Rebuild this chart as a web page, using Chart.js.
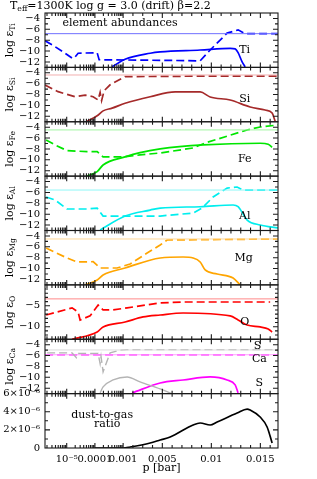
<!DOCTYPE html>
<html>
<head>
<meta charset="utf-8">
<script src="https://cdn.jsdelivr.net/npm/chart.js@4/dist/chart.umd.min.js"></script>
<style>
  html, body { margin: 0; padding: 0; background: #fff; }
</style>
</head>
<body>
<canvas id="mainCanvas" width="317" height="479"></canvas>
<script>
// x range of the plot in bar
const xMinP = 1.7e-6;
const xMaxP = 0.0168;

// labelled x ticks and their text
const xMajorP = [1e-5, 1e-4, 1e-3, 0.005, 0.01, 0.015];
const xMajorText = ["10⁻⁵", "0.0001", "0.001", "0.005", "0.01", "0.015"];

// initial (solar) abundances, thin lines
const tiThin = -6.8;
const siThin = -4.4;
const feThin = -4.5;
const alThin = -5.56;
const mgThin = -4.56;
const oThin = -3.35;
const caThin = -5.85;
const sThin = -4.97;

// [p, log eps] gas phase (dashed)
const tiGas = [[1.71e-6,-8.1],[3.88e-6,-9.2],[8.8e-6,-10.4],[1.55e-5,-11.3],[1.83e-5,-11.3],[2.54e-5,-10.4],[1.2e-4,-10.3],[1.41e-4,-11.6],[4.78e-3,-11.7],[8.86e-3,-11.8],[9.88e-3,-9.8],[1.161e-2,-6.7],[1.273e-2,-6.1],[1.345e-2,-6.8],[1.682e-2,-6.8]];
const siGas = [[1.71e-6,-6.24],[4.95e-6,-7.47],[1.99e-5,-8.39],[4.49e-5,-8.1],[8.63e-5,-8.39],[1.30e-4,-9.0],[1.53e-4,-7.6],[1.73e-4,-9.1],[2.12e-4,-7.3],[3.46e-4,-6.2],[1.2e-3,-4.7],[1.059e-2,-4.6],[1.682e-2,-4.6]];
const feGas = [[1.86e-6,-6.35],[3.88e-6,-7.27],[1.03e-5,-8.31],[5.29e-5,-8.5],[1.2e-4,-8.5],[1.95e-4,-9.47],[1e-3,-9.47],[2.73e-3,-9.1],[4.78e-3,-8.74],[8.14e-3,-7.82],[9.37e-3,-6.9],[1.365e-2,-4.51],[1.498e-2,-3.96],[1.682e-2,-3.59]];
const alGas = [[1.86e-6,-6.84],[3.88e-6,-7.4],[1.03e-5,-9.05],[5.29e-5,-9.05],[1.2e-4,-8.87],[1.95e-4,-10.34],[4.78e-3,-10.34],[8.14e-3,-9.79],[9.06e-3,-8.87],[1.018e-2,-6.84],[1.161e-2,-5.19],[1.263e-2,-5.0],[1.324e-2,-5.56],[1.682e-2,-5.56]];
const mgGas = [[1.86e-6,-6.22],[1.03e-5,-8.06],[2.34e-5,-8.79],[8.63e-5,-8.74],[1.53e-4,-9.9],[6.12e-4,-9.9],[1.71e-3,-9.16],[3.45e-3,-7.14],[4.78e-3,-5.67],[5.49e-3,-4.75],[1.682e-2,-4.56]];
const oGas = [[1.86e-6,-7.2],[1.55e-5,-5.5],[2.54e-5,-6.5],[2.99e-5,-8.4],[6.76e-5,-7.4],[1.3e-4,-4.8],[1.66e-4,-5.5],[1.95e-4,-6.0],[4.42e-4,-6.0],[1.41e-3,-5.5],[4.78e-3,-4.3],[7.12e-3,-4.1],[1.6e-2,-4.1]];
const caGas = [[1.71e-6,-5.85],[1.682e-2,-5.85]];
const sGas = [[2.02e-6,-5.5],[1.55e-5,-5.5],[2.2e-5,-6.4],[2.6e-5,-5.6],[1.3e-4,-5.6],[1.53e-4,-7.5],[1.65e-4,-6.2],[1.95e-4,-9.0],[3.46e-4,-5.5],[7.83e-4,-5.0],[1.41e-3,-4.9],[1.682e-2,-4.9]];

// [p, log eps] condensed phase (solid)
const tiDust = [[4.07e-4,-12.9],[1.2e-3,-11.5],[3.76e-3,-10.4],[4.78e-3,-10.15],[8.86e-3,-9.8],[1.192e-2,-9.5],[1.243e-2,-9.6],[1.273e-2,-10.3],[1.314e-2,-12.0],[1.345e-2,-12.9]];
const siDust = [[5.29e-5,-12.9],[1.2e-4,-11.9],[1.95e-4,-11.0],[4.07e-4,-10.5],[1.2e-3,-9.6],[3.76e-3,-8.4],[6.31e-3,-7.52],[8.86e-3,-7.52],[9.88e-3,-8.44],[1.192e-2,-9.0],[1.396e-2,-10.28],[1.549e-2,-10.84],[1.62e-2,-11.4],[1.651e-2,-12.9]];
const feDust = [[5.29e-5,-13],[1.2e-4,-12.18],[1.95e-4,-10.95],[1.2e-3,-9.47],[2.73e-3,-8.68],[4.78e-3,-8.0],[9.16e-3,-7.27],[1.498e-2,-6.95],[1.58e-2,-7.14],[1.62e-2,-7.69]];
const alDust = [[1.53e-4,-12.9],[1.2e-3,-10.34],[3.76e-3,-9.24],[4.78e-3,-8.87],[8.86e-3,-8.63],[1.222e-2,-8.31],[1.273e-2,-8.63],[1.365e-2,-11.07],[1.498e-2,-11.99],[1.682e-2,-12.54]];
const mgDust = [[4.49e-5,-13],[1.2e-4,-12.1],[1.95e-4,-11.18],[1.2e-3,-9.9],[4.78e-3,-8.06],[7.12e-3,-7.87],[8.14e-3,-8.06],[8.86e-3,-8.79],[9.37e-3,-10.26],[1.059e-2,-11.0],[1.222e-2,-11.74],[1.294e-2,-13]];
const oDust = [[1.55e-5,-13],[1.2e-4,-11.26],[1.95e-4,-10.06],[1.2e-3,-8.87],[3.04e-3,-7.67],[4.78e-3,-7.2],[7.12e-3,-6.72],[1.192e-2,-7.43],[1.273e-2,-8.39],[1.365e-2,-9.59],[1.498e-2,-10.06],[1.58e-2,-10.54],[1.62e-2,-11.26]];
const caDust = [[1.92e-3,-12.87],[4.78e-3,-11.04],[7.12e-3,-10.49],[9.88e-3,-9.93],[1.161e-2,-10.49],[1.243e-2,-11.4],[1.273e-2,-12.87]];
const sDust = [[1.53e-4,-12.87],[1.95e-4,-11.77],[4.42e-4,-10.49],[1.41e-3,-9.93],[2.73e-3,-10.85],[4.78e-3,-12.14],[6e-3,-13]];

// [p, dust-to-gas ratio]
const dustToGas = [[1e-4,0],[1e-3,0],[1.71e-3,0.11e-6],[3.76e-3,0.55e-6],[4.78e-3,0.88e-6],[5.8e-3,1.21e-6],[8.14e-3,2.54e-6],[8.86e-3,2.76e-6],[9.88e-3,2.54e-6],[1.059e-2,2.87e-6],[1.263e-2,3.86e-6],[1.365e-2,4.3e-6],[1.396e-2,4.19e-6],[1.498e-2,3.42e-6],[1.569e-2,2.32e-6],[1.62e-2,0.55e-6]];

/**
 * The p axis is logarithmic up to 0.001 bar and linear above it.
 * One decade is one unit; 0.001 bar of the linear part is LIN units.
 */
const LIN = 9.8 / 28.2;
function pToU(p) {
  return p <= 1e-3 ? Math.log10(p / 1e-3) : (p - 1e-3) / 1e-3 * LIN;
}

function xTickMarks() {
  const marks = [];
  for (let e = -6; e < -3; e++) {
    for (let m = 1; m < 10; m++) {
      const p = m * Math.pow(10, e);
      if (p >= xMinP) marks.push([p, m == 1]);
    }
  }
  for (let k = 1; k <= 16; k++) {
    marks.push([k * 1e-3, k == 1 || k % 5 == 0]);
  }
  return marks;
}

const font = "DejaVu Serif";
const tickFont = { family: font, size: 10 };

function minus(v) {
  return String(v).replace("-", "\u2212");
}

// axes are stacked from the bottom up
const panels = [
  { id: "yDust", min: 0, max: 6e-6, majors: [0, 2e-6, 4e-6, 6e-6], step: 1e-6, sub: null,
    label: v => v == 0 ? "0" : Math.round(v / 1e-6) + "×10⁻⁶" },
  { id: "yCa", min: -13, max: -3, majors: [-12, -10, -8, -6, -4], step: 1, sub: "Ca", label: minus },
  { id: "yO",  min: -13, max: 0,  majors: [-10, -5], step: 1, sub: "O", label: minus },
  { id: "yMg", min: -13, max: -3, majors: [-12, -10, -8, -6, -4], step: 1, sub: "Mg", label: minus },
  { id: "yAl", min: -13, max: -3, majors: [-12, -10, -8, -6, -4], step: 1, sub: "Al", label: minus },
  { id: "yFe", min: -13, max: -3, majors: [-12, -10, -8, -6, -4], step: 1, sub: "Fe", label: minus },
  { id: "ySi", min: -13, max: -3, majors: [-12, -10, -8, -6, -4], step: 1, sub: "Si", label: minus },
  { id: "yTi", min: -13, max: -3, majors: [-12, -10, -8, -6, -4], step: 1, sub: "Ti", label: minus },
];

// element names written inside the panels: [text, p, value, axis]
const notes = [
  ["Ti", 0.0134, -9.9, "yTi"],
  ["Si", 0.0134, -8.9, "ySi"],
  ["Fe", 0.0134, -9.9, "yFe"],
  ["Al", 0.0134, -10.4, "yAl"],
  ["Mg", 0.0133, -8.0, "yMg"],
  ["O", 0.0134, -8.8, "yO"],
  ["S", 0.0147, -4.2, "yCa"],
  ["Ca", 0.0149, -6.7, "yCa"],
  ["S", 0.0149, -11.1, "yCa"],
  ["element abundances", 7.8e-4, -4.85, "yTi"],
  ["dust-to-gas", 1.8e-4, 3.64e-6, "yDust"],
  ["ratio", 2.7e-4, 2.68e-6, "yDust"],
];

function line(points, axis, color, width, dash, smooth) {
  return {
    data: points.map(([p, v]) => ({ x: pToU(p), y: v })),
    yAxisID: axis,
    borderColor: color,
    borderWidth: width,
    borderDash: dash || [],
    pointRadius: 0,
    fill: false,
    cubicInterpolationMode: smooth ? "monotone" : "default",
    tension: 0,
  };
}

function thin(v, axis, color) {
  return line([[xMinP, v], [xMaxP, v]], axis, color, 1);
}

const DASH = [8, 4];
const datasets = [
  thin(tiThin, "yTi", "#7070ff"),
  line(tiGas, "yTi", "#0000ff", 1.7, DASH),
  line(tiDust, "yTi", "#0000ff", 1.7, null, true),
  thin(siThin, "ySi", "#f2b0b0"),
  line(siGas, "ySi", "#a52a2a", 1.7, DASH),
  line(siDust, "ySi", "#a52a2a", 1.7, null, true),
  thin(feThin, "yFe", "#a0f5a0"),
  line(feGas, "yFe", "#00e600", 1.7, DASH),
  line(feDust, "yFe", "#00e600", 1.7, null, true),
  thin(alThin, "yAl", "#90f7f7"),
  line(alGas, "yAl", "#00eeee", 1.7, DASH),
  line(alDust, "yAl", "#00eeee", 1.7, null, true),
  thin(mgThin, "yMg", "#ffd898"),
  line(mgGas, "yMg", "#ffa500", 1.7, DASH),
  line(mgDust, "yMg", "#ffa500", 1.7, null, true),
  thin(oThin, "yO", "#ff8888"),
  line(oGas, "yO", "#ff0000", 1.7, DASH),
  line(oDust, "yO", "#ff0000", 1.7, null, true),
  thin(sThin, "yCa", "#dcdcdc"),
  line(sGas, "yCa", "#b4b4b4", 1.4, DASH),
  line(sDust, "yCa", "#b4b4b4", 1.4, null, true),
  thin(caThin, "yCa", "#ffa0ff"),
  line(caGas, "yCa", "#ff00ff", 1.7, DASH),
  line(caDust, "yCa", "#ff00ff", 1.7, null, true),
  line(dustToGas, "yDust", "#000000", 1.7, null, true),
];

function yAxis(pn) {
  return {
    type: "linear",
    position: "left",
    stack: "panels",
    stackWeight: 1,
    min: pn.min,
    max: pn.max,
    afterBuildTicks: s => { s.ticks = pn.majors.map(v => ({ value: v })); },
    afterFit: s => { s.width = 45; },
    grid: { display: false, drawTicks: false },
    border: { display: false },
    ticks: { autoSkip: false, padding: 5, color: "#000", font: tickFont, callback: pn.label },
  };
}

/**
 * Draws a row of text pieces; pieces with sub set are smaller and lowered
 */
function drawPieces(ctx, pieces, x, y, size, align) {
  const widths = pieces.map(pc => {
    ctx.font = (pc.sub ? size * 0.7 : size) + "px '" + font + "'";
    return ctx.measureText(pc.t).width;
  });
  const total = widths.reduce((a, b) => a + b, 0);
  let cx = align == "center" ? x - total / 2 : x;
  pieces.forEach((pc, i) => {
    ctx.font = (pc.sub ? size * 0.7 : size) + "px '" + font + "'";
    ctx.fillText(pc.t, cx, y + (pc.sub ? size * 0.3 : 0));
    cx += widths[i];
  });
}

const decorPlugin = {
  id: "decor",
  afterDraw(chart) {
    const ctx = chart.ctx;
    const area = chart.chartArea;
    const xs = chart.scales.x;
    const marks = xTickMarks();

    ctx.save();
    ctx.strokeStyle = "#1a1a1a";
    ctx.lineWidth = 1.1;
    panels.forEach(pn => {
      const s = chart.scales[pn.id];
      ctx.strokeRect(area.left, s.top, area.right - area.left, s.bottom - s.top);
      ctx.beginPath();
      marks.forEach(([p, major]) => {
        const x = xs.getPixelForValue(pToU(p));
        const len = major ? 5 : 3;
        ctx.moveTo(x, s.top); ctx.lineTo(x, s.top + len);
        ctx.moveTo(x, s.bottom); ctx.lineTo(x, s.bottom - len);
      });
      for (let v = pn.min + pn.step; v < pn.max - pn.step / 2; v += pn.step) {
        const y = s.getPixelForValue(v);
        const major = pn.majors.some(m => Math.abs(m - v) < pn.step / 10);
        const len = major ? 5 : 3;
        ctx.moveTo(area.left, y); ctx.lineTo(area.left + len, y);
        ctx.moveTo(area.right, y); ctx.lineTo(area.right - len, y);
      }
      ctx.stroke();
    });

    // y titles
    ctx.fillStyle = "#000";
    ctx.textBaseline = "middle";
    ctx.textAlign = "left";
    panels.forEach(pn => {
      if (!pn.sub) return;
      const s = chart.scales[pn.id];
      ctx.save();
      ctx.translate(10, (s.top + s.bottom) / 2);
      ctx.rotate(-Math.PI / 2);
      drawPieces(ctx, [{ t: "log ε" }, { t: pn.sub, sub: true }], 0, 0, 11, "center");
      ctx.restore();
    });

    // notes inside panels
    ctx.textAlign = "center";
    ctx.font = "11px '" + font + "'";
    notes.forEach(([text, p, v, axis]) => {
      const x = xs.getPixelForValue(pToU(p));
      const y = chart.scales[axis].getPixelForValue(v);
      ctx.fillText(text, x, y);
    });

    // title
    ctx.textAlign = "left";
    drawPieces(ctx, [{ t: "T" }, { t: "eff", sub: true }, { t: "=1300K log g = 3.0 (drift) β=2.2" }], 10, 6, 11, "left");
    ctx.restore();
  },
};

const scales = {
  x: {
    type: "linear",
    min: pToU(xMinP),
    max: pToU(xMaxP),
    afterBuildTicks: s => { s.ticks = xMajorP.map(p => ({ value: pToU(p) })); },
    afterFit: s => { s.height = 31; },
    grid: { display: false, drawTicks: false },
    border: { display: false },
    ticks: {
      autoSkip: false, maxRotation: 0, padding: 5, color: "#000", font: tickFont,
      callback: (value, index) => xMajorText[index],
    },
    title: { display: true, text: "p [bar]", color: "#000", font: { family: font, size: 11 }, padding: { top: 0, bottom: 4 } },
  },
};
panels.forEach(pn => { scales[pn.id] = yAxis(pn); });

new Chart(document.getElementById("mainCanvas").getContext("2d"), {
  type: "line",
  data: { datasets },
  options: {
    responsive: false,
    animation: false,
    devicePixelRatio: 1,
    layout: { padding: { top: 13, right: 39, left: 0, bottom: 0 } },
    plugins: { legend: { display: false }, tooltip: { enabled: false } },
    scales,
  },
  plugins: [decorPlugin],
});
</script>
</body>
</html>
